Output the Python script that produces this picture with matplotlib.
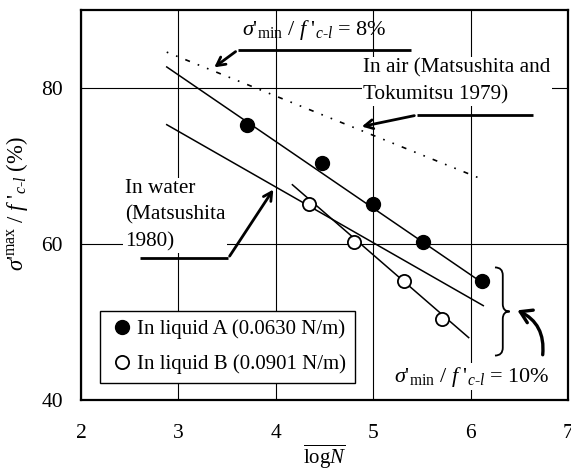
import matplotlib
matplotlib.use("Agg")
import matplotlib.pyplot as plt
from matplotlib.path import Path
from matplotlib.patches import PathPatch, FancyArrowPatch

plt.rcParams['font.family'] = ['Liberation Serif', 'DejaVu Serif']
plt.rcParams['mathtext.fontset'] = 'custom'
plt.rcParams['mathtext.rm'] = 'Liberation Serif'
plt.rcParams['mathtext.it'] = 'Liberation Serif:italic'
plt.rcParams['mathtext.bf'] = 'Liberation Serif:bold'

# ---- data ----
liqA_logN = [3.70, 4.47, 5.00, 5.51, 6.12]
liqA_ratio = [75.3, 70.4, 65.1, 60.3, 55.3]
liqB_logN = [4.34, 4.80, 5.32, 5.71]
liqB_ratio = [65.1, 60.2, 55.3, 50.4]

fitA_x = [2.88, 6.10]
fitA_y = [82.7, 55.2]
fitB_x = [4.17, 5.98]
fitB_y = [67.6, 48.0]
water_x = [2.88, 6.13]
water_y = [75.3, 52.1]
air_x = [2.88, 6.08]
air_y = [84.6, 68.5]

xticks = [2, 3, 4, 5, 6, 7]
yticks = [40, 60, 80]

fig = plt.figure(figsize=(5.71, 4.70), dpi=100)
ax = fig.add_axes([0.1419, 0.1489, 0.8529, 0.8298])
ax.set_xlim(2, 7)
ax.set_ylim(40, 90)
ax.set_xticks(xticks)
ax.set_yticks(yticks)
ax.tick_params(length=0, labelsize=15.5)
ax.tick_params(axis='x', pad=17)
ax.tick_params(axis='y', pad=13)
for s in ax.spines.values():
    s.set_linewidth(1.6)
ax.grid(True, color='black', linewidth=0.8, zorder=0.5)
ax.set_axisbelow(True)

# fit lines
ax.plot(fitA_x, fitA_y, color='black', lw=1.1, zorder=2)
ax.plot(fitB_x, fitB_y, color='black', lw=1.1, zorder=2)
ax.plot(water_x, water_y, color='black', lw=1.1, zorder=2)
ax.plot(air_x, air_y, color='black', lw=1.2, linestyle=(0, (1, 5, 1, 5, 3, 5)), zorder=2)

# points
ax.plot(liqA_logN, liqA_ratio, 'o', color='black', ms=10, zorder=4,
        label='In liquid A (0.0630 N/m)')
ax.plot(liqB_logN, liqB_ratio, 'o', mfc='white', mec='black', mew=1.3, ms=9.5, zorder=4,
        label='In liquid B (0.0901 N/m)')

leg = ax.legend(loc='lower left', bbox_to_anchor=(0.039, 0.044), fontsize=15,
                frameon=True, fancybox=False, edgecolor='black', framealpha=1,
                handlelength=1.3, handletextpad=0.05, borderaxespad=0,
                borderpad=0.42, labelspacing=0.72)
leg.get_frame().set_linewidth(1.0)
leg.set_zorder(5)

arrow_kw = dict(arrowstyle='->,head_length=0.6,head_width=0.32', lw=2.0, color='black')

mfrac = r"$\sigma$'$_{\rm min}$ / $f$ '$_{c\text{-}l}$"

# 8% annotation
ax.text(4.39, 87.4, mfrac + " = 8%", fontsize=16, ha='center', va='center', zorder=3)
ax.plot([5.39, 3.61], [84.88, 84.88], color='black', lw=2.0, solid_capstyle='butt', zorder=3)
ax.annotate('', xy=(3.345, 82.44), xytext=(3.61, 84.88), arrowprops=arrow_kw, zorder=3)

# in air annotation
ax.text(4.895, 80.84, "In air (Matsushita and\nTokumitsu 1979)", fontsize=15.3,
        ha='left', va='center', linespacing=1.5, zorder=3,
        bbox=dict(facecolor='white', edgecolor='none', pad=1))
ax.plot([6.64, 5.45], [76.53, 76.53], color='black', lw=2.0, solid_capstyle='butt', zorder=3)
ax.annotate('', xy=(4.855, 74.99), xytext=(5.45, 76.53), arrowprops=arrow_kw, zorder=3)

# in water annotation
ax.text(2.45, 63.7, "In water\n(Matsushita\n1980)", fontsize=15.3,
        ha='left', va='center', linespacing=1.5, zorder=3,
        bbox=dict(facecolor='white', edgecolor='none', pad=1))
ax.plot([2.606, 3.51], [58.15, 58.15], color='black', lw=2.0, solid_capstyle='butt', zorder=3)
ax.annotate('', xy=(3.99, 67.28), xytext=(3.51, 58.15), arrowprops=arrow_kw, zorder=3)

# brace
verts = [(6.25, 57.0), (6.33, 57.0), (6.33, 56.0),
         (6.33, 52.3),
         (6.33, 51.35), (6.40, 51.35),
         (6.33, 51.35), (6.33, 50.4),
         (6.33, 46.7),
         (6.33, 45.7), (6.25, 45.7)]
codes = [Path.MOVETO, Path.CURVE3, Path.CURVE3,
         Path.LINETO,
         Path.CURVE3, Path.CURVE3,
         Path.CURVE3, Path.CURVE3,
         Path.LINETO,
         Path.CURVE3, Path.CURVE3]
ax.add_patch(PathPatch(Path(verts, codes), facecolor='none', edgecolor='black', lw=1.3, zorder=3))

curved = FancyArrowPatch((6.74, 45.8), (6.48, 51.5), connectionstyle='arc3,rad=0.35',
                         arrowstyle='->,head_length=8,head_width=5', lw=2.4, color='black',
                         shrinkA=0, shrinkB=0, zorder=3)
ax.add_patch(curved)

ax.text(6.01, 43.0, mfrac + " = 10%", fontsize=16, ha='center', va='center', zorder=3,
        bbox=dict(facecolor='white', edgecolor='none', pad=1))

ax.set_ylabel(r"$\sigma$'$^{\rm max}$ / $f$ '$_{c\text{-}l}$ (%)", fontsize=16.3)
ax.yaxis.set_label_coords(-0.104, 0.503)
ax.set_xlabel(r"$\overline{\mathrm{log}\mathit{N}}$", fontsize=15)
ax.xaxis.set_label_coords(0.5, -0.108)

fig.savefig('out.png', dpi=100)
